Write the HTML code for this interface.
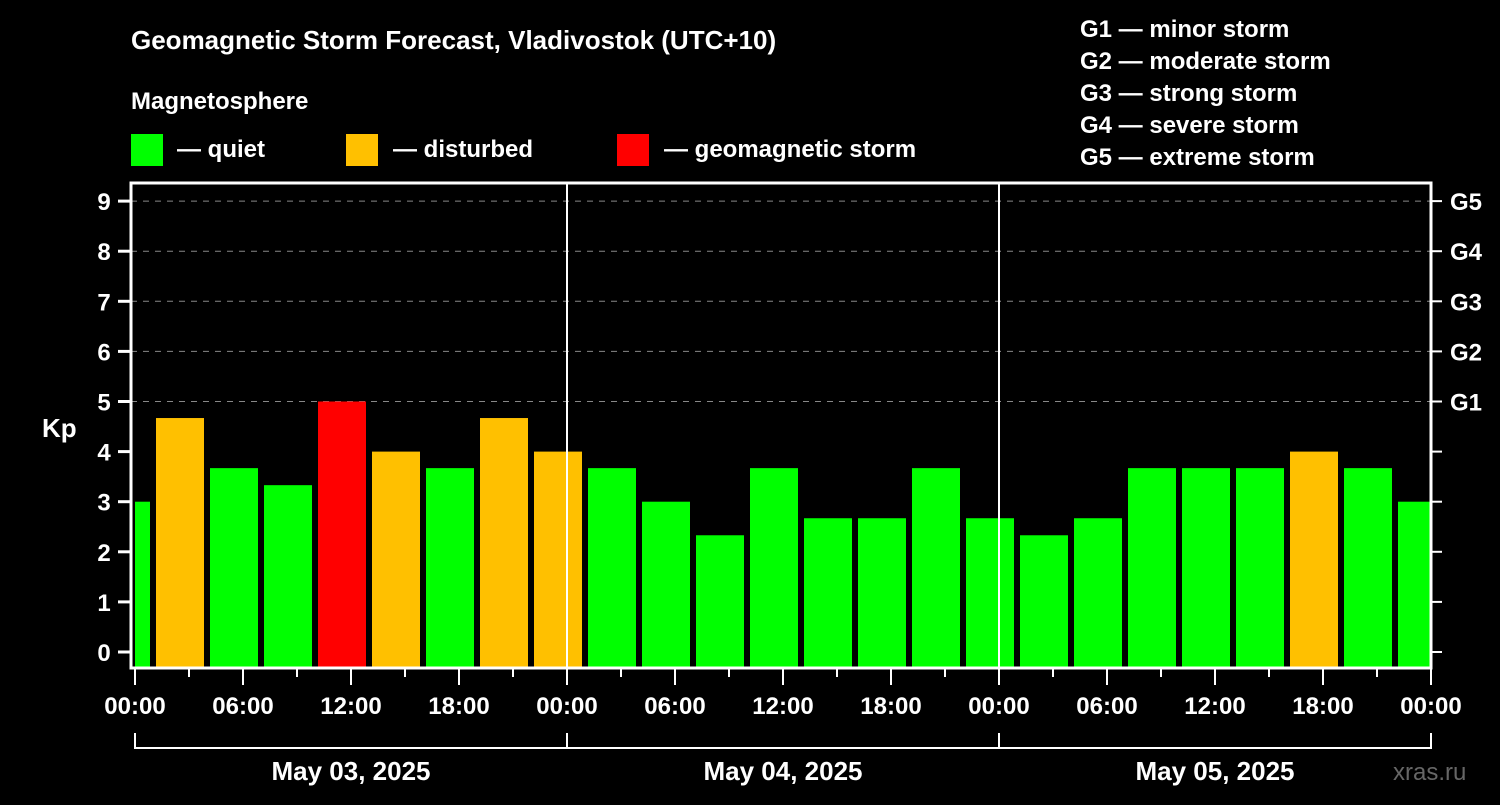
<!DOCTYPE html>
<html><head><meta charset="utf-8"><style>
body{margin:0;background:#000;width:1500px;height:800px;overflow:hidden}
svg text{font-family:"Liberation Sans",Arial,sans-serif;font-weight:bold;fill:#fff}
</style></head><body>
<svg id="chart" width="1500" height="800" xmlns="http://www.w3.org/2000/svg">
<rect width="1500" height="800" fill="#000"/>
<text x="131" y="49" font-size="26">Geomagnetic Storm Forecast, Vladivostok (UTC+10)</text>
<text x="131" y="109" font-size="24">Magnetosphere</text>
<g><rect x="131" y="134" width="32" height="32" fill="#00ff00"/><text x="177" y="157" font-size="24">— quiet</text></g>
<g><rect x="346" y="134" width="32" height="32" fill="#ffc000"/><text x="393" y="157" font-size="24">— disturbed</text></g>
<g><rect x="617" y="134" width="32" height="32" fill="#ff0000"/><text x="664" y="157" font-size="24">— geomagnetic storm</text></g>
<g font-size="24">
<text x="1080" y="37">G1 — minor storm</text>
<text x="1080" y="69">G2 — moderate storm</text>
<text x="1080" y="101">G3 — strong storm</text>
<text x="1080" y="133">G4 — severe storm</text>
<text x="1080" y="165">G5 — extreme storm</text>
</g>
<text x="42" y="437" font-size="26">Kp</text>
<text x="1393" y="780" font-size="24" style="fill:#666;font-weight:normal">xras.ru</text>
<g id="grid"></g><g id="bars"></g><g id="axes"></g>
</svg>
<script>
const kpValues=[3,4.67,3.67,3.33,5,4,3.67,4.67,4,3.67,3,2.33,3.67,2.67,2.67,3.67,2.67,2.33,2.67,3.67,3.67,3.67,4,3.67,3];
const yTicks=[0,1,2,3,4,5,6,7,8,9];
const gLabels=["G1","G2","G3","G4","G5"];
const xTickLabels=["00:00","06:00","12:00","18:00","00:00","06:00","12:00","18:00","00:00","06:00","12:00","18:00","00:00"];
const dayLabels=["May 03, 2025","May 04, 2025","May 05, 2025"];
const NS="http://www.w3.org/2000/svg";
const L=131,R=1431,T=183,B=668,X0=135,PXH=18;
function y(v){return 652-v*50.1;}
function xh(h){return X0+h*PXH;}
function mk(tag,attrs,parent,txt){const e=document.createElementNS(NS,tag);for(const k in attrs)e.setAttribute(k,attrs[k]);if(txt!==undefined)e.textContent=txt;parent.appendChild(e);return e;}
const grid=document.getElementById('grid'),bars=document.getElementById('bars'),axes=document.getElementById('axes');
for(let v=5;v<=9;v++){const l=mk('line',{x1:L,x2:R,y1:y(v),y2:y(v),stroke:'#888','stroke-width':1,'stroke-dasharray':'6,6'},grid);

}
kpValues.forEach((v,i)=>{const c=xh(i*3-0.5);let x1=Math.max(c-24,X0),x2=Math.min(c+24,R-1);
const col=v>=5?'#ff0000':(v>=4?'#ffc000':'#00ff00');
const r=mk('rect',{x:x1,y:y(v),width:x2-x1,height:B-y(v),fill:col},bars);

});
[xh(24),xh(48)].forEach(x=>{const l=mk('line',{x1:x,x2:x,y1:T,y2:B,stroke:'#fff','stroke-width':2},axes);

});
const f=mk('rect',{x:L,y:T,width:R-L,height:B-T,fill:'none',stroke:'#fff','stroke-width':3},axes);


yTicks.forEach(v=>{mk('line',{x1:118,x2:L,y1:y(v),y2:y(v),stroke:'#fff','stroke-width':3},axes);
mk('line',{x1:R,x2:1442,y1:y(v),y2:y(v),stroke:'#fff','stroke-width':2},axes);
const t=mk('text',{x:104,y:y(v)+9,'font-size':24,'text-anchor':'middle'},axes,String(v));

});
gLabels.forEach((g,i)=>{const t=mk('text',{x:1450,y:y(5+i)+9,'font-size':24},axes,g);

});
for(let h=0;h<=72;h+=3){const maj=h%6===0;mk('line',{x1:xh(h),x2:xh(h),y1:B,y2:maj?685:677,stroke:'#fff','stroke-width':2},axes);}
xTickLabels.forEach((s,i)=>{const t=mk('text',{x:xh(i*6),y:714,'font-size':24,'text-anchor':'middle'},axes,s);

});
mk('line',{x1:xh(0),x2:xh(72),y1:748,y2:748,stroke:'#fff','stroke-width':2},axes);
for(let d=0;d<=3;d++)mk('line',{x1:xh(d*24),x2:xh(d*24),y1:733,y2:749,stroke:'#fff','stroke-width':2},axes);
dayLabels.forEach((s,i)=>{const t=mk('text',{x:xh(i*24+12),y:780,'font-size':26,'text-anchor':'middle'},axes,s);

});
</script>
</body></html>
